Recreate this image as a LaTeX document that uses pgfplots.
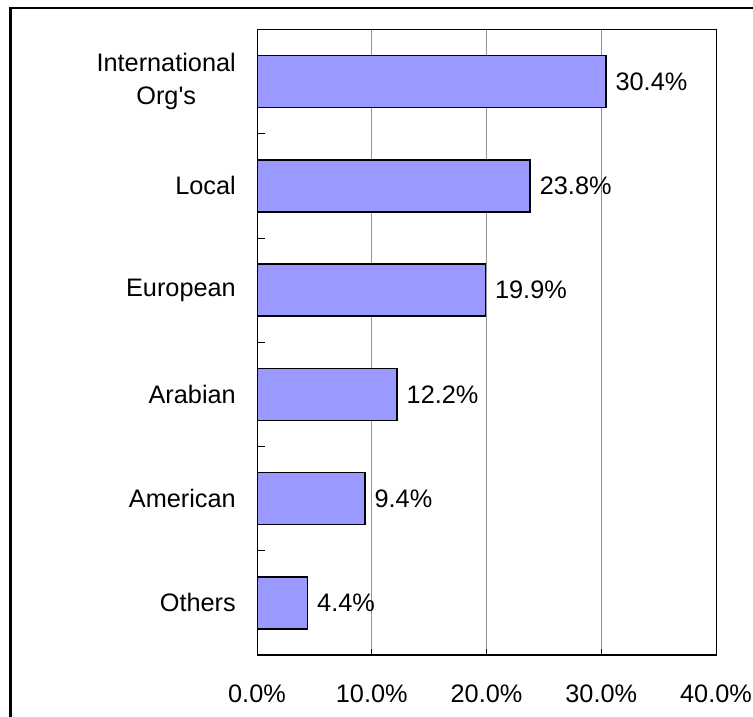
\documentclass[border=0pt]{standalone}
\usepackage{pgfplots}
\pgfplotsset{compat=1.18}
\usepackage{fontspec}
\setmainfont[Ligatures=NoCommon]{Liberation Sans}
\definecolor{barfill}{HTML}{9999FF}
\newcommand{\lblfont}{\fontsize{25.3}{33}\selectfont}
\begin{document}
\begin{tikzpicture}
\useasboundingbox (0,0) rectangle (753pt,716pt);
\fill[white] (0,0) rectangle (753pt,716pt);
\draw[line width=2.5pt] (10.5pt,-10pt) -- (10.5pt,708.2pt) -- (770pt,708.2pt);
\begin{axis}[
  at={(257pt,61pt)}, anchor=south west,
  scale only axis, width=459pt, height=625.5pt,
  xbar, bar width=52pt,
  xmin=0, xmax=40, ymin=-0.5, ymax=5.5,
  xtick={0,10,20,30,40},
  xticklabels={0.0\%,10.0\%,20.0\%,30.0\%,40.0\%},
  xmajorgrids, major grid style={draw=gray!85, line width=0.9pt},
  ytick={0,1,2,3,4,5},
  yticklabels={Others,American,Arabian,European,Local,{International\\Org\textquotesingle s}},
  minor ytick={0.5,1.5,2.5,3.5,4.5},
  xtick pos=lower, ytick pos=left, tick align=inside,
  major tick length=6pt, minor tick length=8pt,
  every major y tick/.append style={draw=none},
  tick style={black, line width=1pt},
  axis line style={black, line width=1pt},
  xticklabel style={font=\lblfont, anchor=base, yshift=-47pt},
  yticklabel style={font=\lblfont, align=center, inner sep=0pt, xshift=-21pt},
  /pgf/number format/assume math mode=true,
  nodes near coords={\pgfmathprintnumber[fixed,fixed zerofill,precision=1]{\pgfplotspointmeta}\%},
  nodes near coords style={font=\lblfont, anchor=west, inner sep=0pt, xshift=9pt, black},
]
\addplot[draw=black, line width=1.5pt, fill=barfill] coordinates {
  (4.4,0) (9.4,1) (12.2,2) (19.9,3) (23.8,4) (30.4,5)
};
\draw[line width=2pt] (rel axis cs:0,1) -- (rel axis cs:0,0) -- (rel axis cs:1,0);
\end{axis}
\end{tikzpicture}
\end{document}
